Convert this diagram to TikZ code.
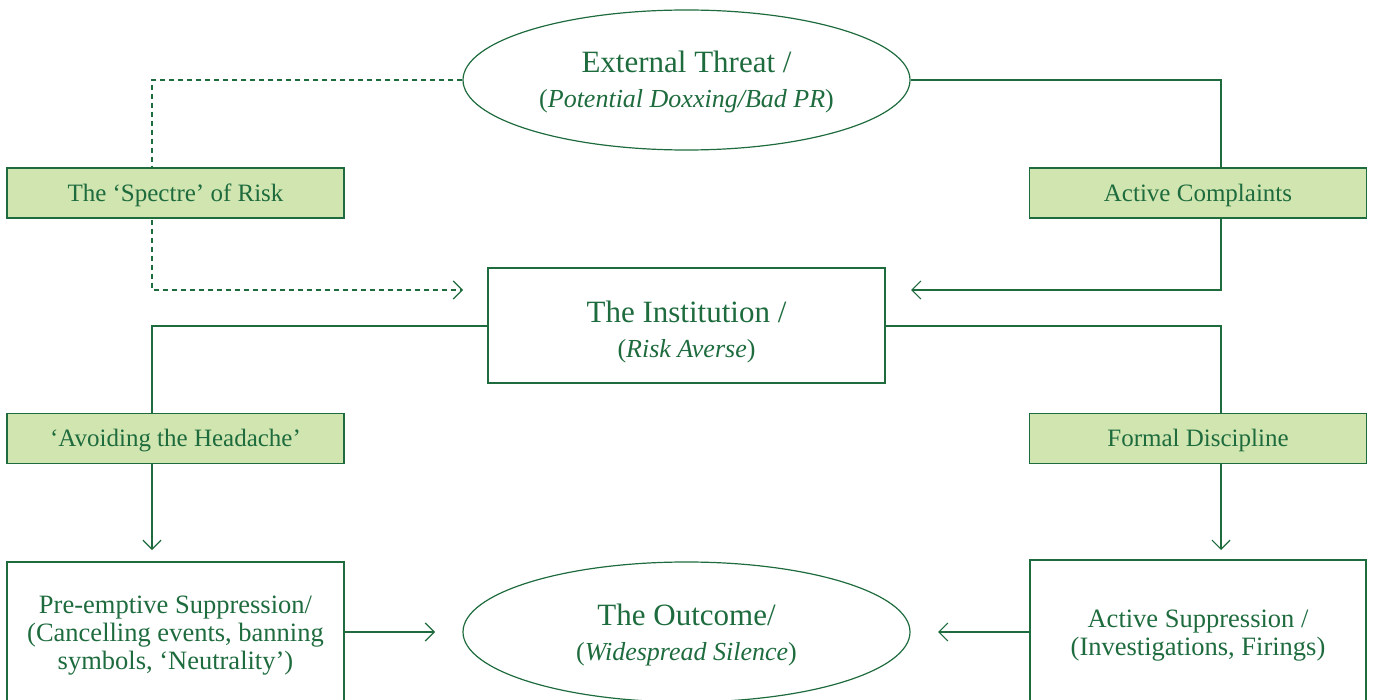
\documentclass[tikz,border=0pt]{standalone}
\usepackage{fontspec}
\setmainfont{Liberation Serif}
\usetikzlibrary{shapes.geometric,arrows.meta,backgrounds}
\definecolor{dg}{HTML}{1E6B3E}
\definecolor{lg}{HTML}{D0E5AF}
\begin{document}
\begin{tikzpicture}[x=1pt,y=-1pt,
  every node/.style={text=dg, align=center, inner sep=0pt},
  oval/.style={ellipse, draw=dg, line width=1.2pt, minimum width=447pt, minimum height=140pt},
  mainbox/.style={rectangle, draw=dg, line width=1.2pt},
  labelbox/.style={rectangle, draw=dg, fill=lg, line width=1.2pt, minimum width=337pt, minimum height=50pt},
  labeltext/.style={font=\fontsize{25}{28}\selectfont},
  conn/.style={draw=dg, line width=1.2pt},
  tip/.style={-{Straight Barb[length=9pt,width=18pt,line width=1.2pt]}},
  big/.style={font=\fontsize{31}{35}\selectfont},
  body/.style={font=\fontsize{26.5}{28}\selectfont},
]
\useasboundingbox (0,0) rectangle (1375,700);
% shapes
\node[oval] (ext) at (686.5,80) {};
\node[labelbox] (spectre) at (175.5,193) {};
\node[labelbox] (compl) at (1198,193) {};
\node[mainbox, minimum width=397pt, minimum height=115pt] (inst) at (686.5,325.5) {};
\node[labelbox] (avoid) at (175.5,438.5) {};
\node[labelbox] (formal) at (1198,438.5) {};
\node[mainbox, minimum width=337pt, minimum height=140pt] (pre) at (175.5,632) {};
\node[oval] (out) at (686.5,632) {};
\node[mainbox, minimum width=336pt, minimum height=144pt] (act) at (1198,632) {};
% texts
\node[big] (extt) at (686.5,82) {External Threat /\\{\fontsize{26}{35}\selectfont(\textit{Potential Doxxing/Bad PR})}};
\node[labeltext] (spectret) at (175.5,195) {The ‘Spectre’ of Risk};
\node[labeltext] (complt) at (1198,195) {Active Complaints};
\node[big] (instt) at (686.5,332) {The Institution /\\{\fontsize{26}{35}\selectfont(\textit{Risk Averse})}};
\node[labeltext] (avoidt) at (175.5,440.5) {‘Avoiding the Headache’};
\node[labeltext] (formalt) at (1198,440.5) {Formal Discipline};
\node[body] (pret) at (175.5,636) {Pre-emptive Suppression/\\(Cancelling events, banning\\symbols, ‘Neutrality’)};
\node[big] (outt) at (686.5,635) {The Outcome/\\{\fontsize{26}{35}\selectfont(\textit{Widespread Silence})}};
\node[body] (actt) at (1198,636) {Active Suppression /\\(Investigations, Firings)};
% coordinates
\coordinate (dl1) at (152,80);
\coordinate (dl2) at (152,290);
\coordinate (dl3) at (463,290);
\coordinate (rl1) at (1221,80);
\coordinate (rl2) at (1221,290);
\coordinate (rl3) at (911,290);
\coordinate (il0) at (488,326);
\coordinate (il1) at (152,326);
\coordinate (il2) at (152,550);
\coordinate (ir0) at (885,326);
\coordinate (ir1) at (1221,326);
\coordinate (ir2) at (1221,550);
\coordinate (pa) at (435,632);
\coordinate (aa) at (938,632);
\begin{scope}[on background layer]
\draw[conn, dashed, dash pattern=on 5pt off 4pt, tip] (ext.west) -- (dl1) -- (dl2) -- (dl3);
\draw[conn, tip] (ext.east) -- (rl1) -- (rl2) -- (rl3);
\draw[conn, tip] (il0) -- (il1) -- (il2);
\draw[conn, tip] (ir0) -- (ir1) -- (ir2);
\draw[conn, tip] (pre.east) -- (pa);
\draw[conn, tip] (act.west) -- (aa);
\end{scope}
\end{tikzpicture}
\end{document}
